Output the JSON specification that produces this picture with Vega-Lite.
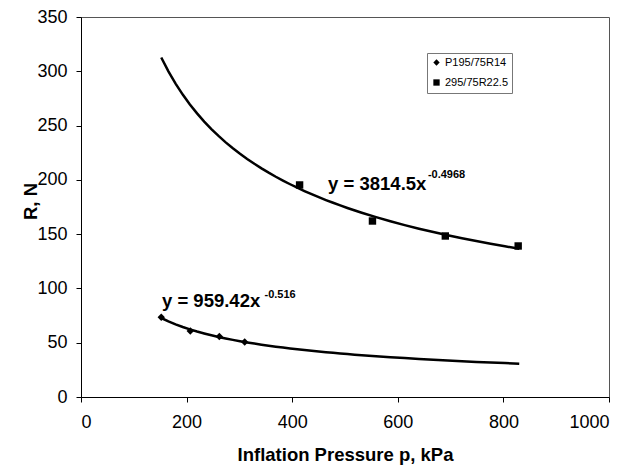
{
  "$schema": "https://vega.github.io/schema/vega-lite/v6.json",
  "width": 528,
  "height": 380,
  "autosize": "none",
  "padding": {"left": 81, "top": 17, "right": 21, "bottom": 69},
  "background": "white",
  "config": {
    "view": {"stroke": "#555", "strokeWidth": 1},
    "font": "Liberation Sans",
    "axis": {
      "grid": false,
      "domainColor": "black",
      "tickColor": "black",
      "tickSize": 5,
      "labelFont": "Liberation Sans",
      "labelFontSize": 18,
      "labelColor": "black",
      "titleFont": "Liberation Sans",
      "titleFontSize": 18.5,
      "titleFontWeight": "bold",
      "titleColor": "black"
    }
  },
  "datasets": {
    "pts": [
      {"tire": "P195/75R14", "p": 152, "R": 73.5},
      {"tire": "P195/75R14", "p": 207, "R": 60.8},
      {"tire": "P195/75R14", "p": 262, "R": 55.8},
      {"tire": "P195/75R14", "p": 310, "R": 50.7},
      {"tire": "295/75R22.5", "p": 414, "R": 195.3},
      {"tire": "295/75R22.5", "p": 552, "R": 162.1},
      {"tire": "295/75R22.5", "p": 690, "R": 148.3},
      {"tire": "295/75R22.5", "p": 828, "R": 139.1}
    ],
    "eq": [
      {"tx": 468, "ty": 190.7, "label": "y = 3814.5x"},
      {"tx": 153.4, "ty": 82.9, "label": "y = 959.42x"}
    ],
    "ex": [
      {"tx": 657, "ty": 201.7, "label": "-0.4968"},
      {"tx": 347.5, "ty": 91.2, "label": "-0.516"}
    ]
  },
  "layer": [
    {
      "data": {"name": "pts"},
      "transform": [
        {"regression": "R", "on": "p", "groupby": ["tire"], "method": "pow", "extent": [152, 830]}
      ],
      "mark": {"type": "line", "color": "black", "strokeWidth": 2.5},
      "encoding": {
        "x": {
          "field": "p", "type": "quantitative",
          "scale": {"domain": [0, 1000], "nice": false},
          "axis": {"values": [0, 200, 400, 600, 800, 1000], "format": "d", "labelPadding": 11, "title": "Inflation Pressure p, kPa", "titleBaseline": "alphabetic", "titleY": 63}
        },
        "y": {
          "field": "R", "type": "quantitative",
          "scale": {"domain": [0, 350], "nice": false},
          "axis": {"values": [0, 50, 100, 150, 200, 250, 300, 350], "format": "d", "labelPadding": 9, "title": "R, N", "titleBaseline": "alphabetic", "titleX": -45, "titleY": 184, "titleAlign": "center", "titleAngle": 270}
        },
        "detail": {"field": "tire"}
      }
    },
    {
      "data": {"name": "pts"},
      "mark": {"type": "point", "filled": true, "color": "black", "opacity": 1, "size": 55},
      "encoding": {
        "x": {"field": "p", "type": "quantitative"},
        "y": {"field": "R", "type": "quantitative"},
        "shape": {
          "field": "tire", "type": "nominal",
          "scale": {"domain": ["P195/75R14", "295/75R22.5"], "range": ["diamond", "square"]},
          "legend": {
            "title": null,
            "orient": "none",
            "legendX": 346,
            "legendY": 36,
            "strokeColor": "#777",
            "padding": 4,
            "labelFont": "Liberation Sans",
            "labelFontSize": 11,
            "labelColor": "black",
            "symbolSize": 40,
            "symbolFillColor": "black",
            "symbolStrokeColor": "black",
            "rowPadding": 7,
            "labelOffset": 3
          }
        }
      }
    },
    {
      "data": {"name": "eq"},
      "mark": {"type": "text", "align": "left", "baseline": "alphabetic", "fontSize": 18.5, "fontWeight": "bold", "font": "Liberation Sans", "color": "black"},
      "encoding": {
        "x": {"field": "tx", "type": "quantitative"},
        "y": {"field": "ty", "type": "quantitative"},
        "text": {"field": "label"}
      }
    },
    {
      "data": {"name": "ex"},
      "mark": {"type": "text", "align": "left", "baseline": "alphabetic", "fontSize": 11, "fontWeight": "bold", "font": "Liberation Sans", "color": "black"},
      "encoding": {
        "x": {"field": "tx", "type": "quantitative"},
        "y": {"field": "ty", "type": "quantitative"},
        "text": {"field": "label"}
      }
    }
  ]
}
